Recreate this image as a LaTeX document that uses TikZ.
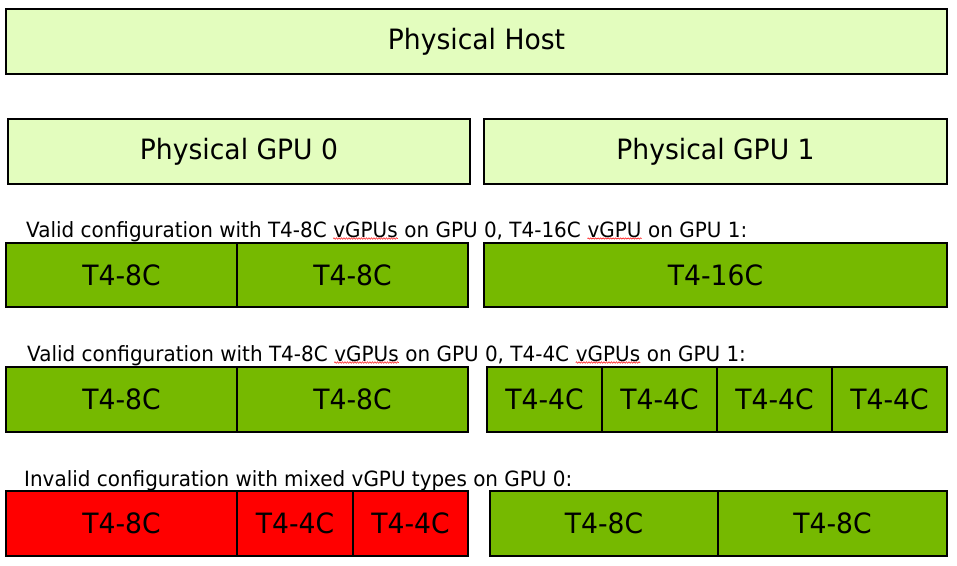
\documentclass[tikz,border=0pt]{standalone}
\usepackage{fontspec}
\setmainfont{DejaVu Sans}[FakeStretch=0.95]
\usetikzlibrary{decorations.pathmorphing}
\definecolor{hostgreen}{HTML}{E3FDBE}
\definecolor{vgpugreen}{HTML}{76B900}
\definecolor{badred}{HTML}{FF0000}
\tikzset{
  box/.style={draw, rectangle, line width=2.6pt, inner sep=0pt, font=\fontsize{28}{31}\selectfont},
  physbox/.style={box, fill=hostgreen},
  okbox/.style={box, fill=vgpugreen},
  badbox/.style={box, fill=badred},
  caption/.style={anchor=base west, inner sep=0pt, font=\fontsize{21}{24}\selectfont},
  squiggle/.style={draw=red, line width=0.5pt, decorate, decoration={snake, amplitude=0.7pt, segment length=2.5pt}}
}
\begin{document}
\begin{tikzpicture}[x=1pt, y=-1pt]
    \useasboundingbox (0,0) rectangle (957,565);

    % Physical host and GPUs
    \node at (476.5, 41.5) (host) [physbox, minimum width=941pt, minimum height=65pt] {Physical Host};
    \node at (239, 151.5) (gpu0) [physbox, minimum width=462pt, minimum height=65pt] {Physical GPU 0};
    \node at (715.5, 151.5) (gpu1) [physbox, minimum width=463pt, minimum height=65pt] {Physical GPU 1};

    % First valid configuration
    \node at (26, 237) (capA1) [caption] {Valid configuration with T4-8C\ \mbox{}};
    \node at (capA1.base east) (capA2) [caption] {vGPUs};
    \node at (capA2.base east) (capA3) [caption] {\ on GPU 0, T4-16C\ \mbox{}};
    \node at (capA3.base east) (capA4) [caption] {vGPU};
    \node at (capA4.base east) (capA5) [caption] {\ on GPU 1:};
    \draw[squiggle] ([yshift=-1pt]capA2.south west) -- ([yshift=-1pt]capA2.south east);
    \draw[squiggle] ([yshift=-1pt]capA4.south west) -- ([yshift=-1pt]capA4.south east);
    \node at (121.5, 275) (a1) [okbox, minimum width=231pt, minimum height=64pt] {T4-8C};
    \node at (352.5, 275) (a2) [okbox, minimum width=231pt, minimum height=64pt] {T4-8C};
    \node at (715.5, 275) (a3) [okbox, minimum width=463pt, minimum height=64pt] {T4-16C};

    % Second valid configuration
    \node at (27, 361) (capB1) [caption] {Valid configuration with T4-8C\ \mbox{}};
    \node at (capB1.base east) (capB2) [caption] {vGPUs};
    \node at (capB2.base east) (capB3) [caption] {\ on GPU 0, T4-4C\ \mbox{}};
    \node at (capB3.base east) (capB4) [caption] {vGPUs};
    \node at (capB4.base east) (capB5) [caption] {\ on GPU 1:};
    \draw[squiggle] ([yshift=-1pt]capB2.south west) -- ([yshift=-1pt]capB2.south east);
    \draw[squiggle] ([yshift=-1pt]capB4.south west) -- ([yshift=-1pt]capB4.south east);
    \node at (121.5, 399.5) (b1) [okbox, minimum width=231pt, minimum height=65pt] {T4-8C};
    \node at (352.5, 399.5) (b2) [okbox, minimum width=231pt, minimum height=65pt] {T4-8C};
    \foreach \i/\cx in {3/544.5, 4/659.5, 5/774.5, 6/889.5}
        \node at (\cx, 399.5) (b\i) [okbox, minimum width=115pt, minimum height=65pt] {T4-4C};

    % Invalid configuration
    \node at (24, 486) (capC) [caption] {Invalid configuration with mixed vGPU types on GPU 0:};
    \node at (121.5, 523.5) (c1) [badbox, minimum width=231pt, minimum height=65pt] {T4-8C};
    \node at (295, 523.5) (c2) [badbox, minimum width=116pt, minimum height=65pt] {T4-4C};
    \node at (410.5, 523.5) (c3) [badbox, minimum width=115pt, minimum height=65pt] {T4-4C};
    \node at (604, 523.5) (c4) [okbox, minimum width=228pt, minimum height=65pt] {T4-8C};
    \node at (832.5, 523.5) (c5) [okbox, minimum width=229pt, minimum height=65pt] {T4-8C};

\end{tikzpicture}
\end{document}
